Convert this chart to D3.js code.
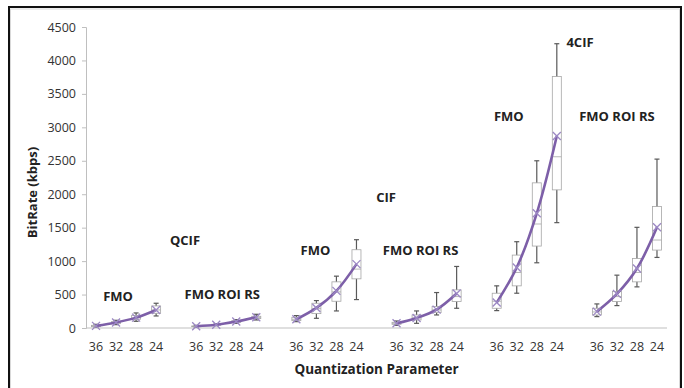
<!DOCTYPE html>
<html>
<head>
<meta charset="utf-8">
<script src="https://cdn.jsdelivr.net/npm/d3@7"></script>
<style>
  body { margin: 0; background: #fff; }
  text { font-family: "Open Sans", sans-serif; }
</style>
</head>
<body>
<div id="chart"></div>
<script>
// data (6 groups x 4 QP values, in kbps)
const groupNames = ["FMO", "FMO ROI RS", "FMO", "FMO ROI RS", "FMO", "FMO ROI RS"];
const resolutions = ["QCIF", "CIF", "4CIF"];
const qpLabels = ["36", "32", "28", "24"];

const minVals = [15, 50, 100, 180,   15, 35, 70, 120,   95, 145, 255, 425,
                 40, 70, 195, 295,   260, 520, 975, 1575,   170, 335, 615, 1055];
const q1Vals = [20, 65, 130, 220,   20, 42, 85, 140,   110, 215, 400, 735,
                55, 120, 230, 395,   295, 630, 1225, 2065,   195, 395, 690, 1165];
const medianVals = [30, 80, 150, 270,   25, 48, 95, 155,   130, 290, 540, 880,
                    70, 150, 270, 470,   400, 830, 1555, 2560,   240, 470, 830, 1315];
const q3Vals = [40, 95, 185, 330,   30, 55, 110, 175,   160, 370, 690, 1170,
                85, 195, 320, 570,   520, 1090, 2170, 3760,   295, 545, 1040, 1815];
const maxVals = [55, 115, 225, 370,   40, 65, 125, 205,   185, 410, 775, 1320,
                 105, 255, 530, 920,   630, 1290, 2500, 4250,   360, 790, 1505, 2525];
const meanVals = [32, 82, 155, 270,   27, 48, 97, 160,   130, 300, 555, 955,
                  70, 150, 275, 515,   380, 905, 1715, 2870,   245, 510, 890, 1505];

const yTicks = [0, 500, 1000, 1500, 2000, 2500, 3000, 3500, 4000, 4500];

// set up
const width = 684, height = 388;
const margin = { top: 27, bottom: 60, left: 86, right: 17 };

const svg = d3.select('#chart')
  .append('svg')
  .attr('width', width)
  .attr('height', height);

// frame
svg.append('rect')
  .attr('x', 9).attr('y', 7)
  .attr('width', 672).attr('height', 400)
  .attr('fill', 'none').attr('stroke', '#111').attr('stroke-width', 2);
svg.append('rect')
  .attr('x', 10.5).attr('y', 9)
  .attr('width', 669).attr('height', 400)
  .attr('fill', 'none').attr('stroke', '#d9d9d9').attr('stroke-width', 1);

// scales: 4 slots per group plus an empty slot between groups
const slots = d3.range(groupNames.length * 5 - 1);
const x = d3.scaleBand()
  .domain(slots)
  .range([margin.left, width - margin.right]);

const y = d3.scaleLinear()
  .domain([0, 4500])
  .range([height - margin.bottom, margin.top]);

const slotOf = i => Math.floor(i / 4) * 5 + (i % 4);
const cx = i => x(slotOf(i)) + x.bandwidth() / 2;

// rows
const rows = meanVals.map((m, i) => ({
  i, group: Math.floor(i / 4), qp: qpLabels[i % 4],
  min: minVals[i], q1: q1Vals[i], med: medianVals[i], q3: q3Vals[i], max: maxVals[i], mean: m
}));

// y axis
const yAxis = svg.append('g')
  .attr('transform', `translate(${margin.left},0)`)
  .call(d3.axisLeft(y).tickValues(yTicks).tickFormat(d3.format('d')).tickSize(4).tickPadding(6));
yAxis.select('.domain').attr('stroke', '#bfbfbf');
yAxis.selectAll('.tick line').attr('stroke', '#bfbfbf');
yAxis.selectAll('.tick text')
  .attr('font-family', '"Open Sans", sans-serif')
  .attr('font-size', '12.5px')
  .attr('fill', '#333');

// x axis line
svg.append('line')
  .attr('x1', margin.left).attr('x2', width - margin.right)
  .attr('y1', y(0)).attr('y2', y(0))
  .attr('stroke', '#bfbfbf');

// x tick labels
svg.append('g')
  .selectAll('text')
  .data(rows)
  .join('text')
    .attr('x', d => cx(d.i))
    .attr('y', y(0) + 23)
    .attr('text-anchor', 'middle')
    .attr('font-size', '12.5px')
    .attr('fill', '#333')
    .text(d => d.qp);

// axis titles
svg.append('text')
  .attr('x', (margin.left + width - margin.right) / 2)
  .attr('y', y(0) + 46)
  .attr('text-anchor', 'middle')
  .attr('font-size', '13.5px')
  .attr('font-weight', 'bold')
  .attr('fill', '#222')
  .text('Quantization Parameter');

svg.append('text')
  .attr('transform', `translate(37,${(margin.top + y(0)) / 2 + 15}) rotate(-90)`)
  .attr('text-anchor', 'middle')
  .attr('font-size', '13px')
  .attr('font-weight', 'bold')
  .attr('fill', '#222')
  .text('BitRate (kbps)');

// box plots
const boxW = 9, capW = 5;
const boxes = svg.append('g').selectAll('g')
  .data(rows)
  .join('g');

// whiskers
boxes.append('line')
  .attr('x1', d => cx(d.i)).attr('x2', d => cx(d.i))
  .attr('y1', d => y(d.max)).attr('y2', d => y(d.min))
  .attr('stroke', '#595959').attr('stroke-width', 1.2);
boxes.append('line')
  .attr('x1', d => cx(d.i) - capW / 2).attr('x2', d => cx(d.i) + capW / 2)
  .attr('y1', d => y(d.max)).attr('y2', d => y(d.max))
  .attr('stroke', '#595959').attr('stroke-width', 1.2);
boxes.append('line')
  .attr('x1', d => cx(d.i) - capW / 2).attr('x2', d => cx(d.i) + capW / 2)
  .attr('y1', d => y(d.min)).attr('y2', d => y(d.min))
  .attr('stroke', '#595959').attr('stroke-width', 1.2);

// box
boxes.append('rect')
  .attr('x', d => cx(d.i) - boxW / 2)
  .attr('y', d => y(d.q3))
  .attr('width', boxW)
  .attr('height', d => y(d.q1) - y(d.q3))
  .attr('fill', '#fff')
  .attr('stroke', '#a6a6a6').attr('stroke-width', 0.8);
boxes.append('line')
  .attr('x1', d => cx(d.i) - boxW / 2).attr('x2', d => cx(d.i) + boxW / 2)
  .attr('y1', d => y(d.med)).attr('y2', d => y(d.med))
  .attr('stroke', '#a6a6a6').attr('stroke-width', 0.8);

// mean lines, one per group
const purple = '#7d5fa8';
const line = d3.line()
  .x(d => cx(d.i))
  .y(d => y(d.mean))
  .curve(d3.curveCatmullRom.alpha(0.5));

svg.append('g')
  .selectAll('path')
  .data(d3.groups(rows, d => d.group).map(g => g[1]))
  .join('path')
    .attr('d', line)
    .attr('fill', 'none')
    .attr('stroke', purple)
    .attr('stroke-width', 2.6);

// x markers
const m = 4;
svg.append('g')
  .selectAll('path')
  .data(rows)
  .join('path')
    .attr('d', d => {
      const px = cx(d.i), py = y(d.mean);
      return `M${px - m},${py - m}L${px + m},${py + m}M${px - m},${py + m}L${px + m},${py - m}`;
    })
    .attr('stroke', '#9c88c4')
    .attr('stroke-width', 1.3)
    .attr('fill', 'none');

// group labels (x offset in px from group centre, y as value)
const labelValues = [470, 490, 1150, 1150, 3160, 3160];
const labelShift = [-8, -4, -11, -6, -18, -10];
const resValues = [1300, 1945, 4260];
const resX = [185, 386, 580];

const groupCenter = g => (x(g * 5) + x(g * 5 + 3) + x.bandwidth()) / 2;

svg.append('g')
  .selectAll('text')
  .data(groupNames)
  .join('text')
    .attr('x', (d, g) => groupCenter(g) + labelShift[g])
    .attr('y', (d, g) => y(labelValues[g]) + 4)
    .attr('text-anchor', 'middle')
    .attr('font-size', '13px')
    .attr('font-weight', 'bold')
    .attr('fill', '#222')
    .text(d => d);

svg.append('g')
  .selectAll('text')
  .data(resolutions)
  .join('text')
    .attr('x', (d, k) => resX[k])
    .attr('y', (d, k) => y(resValues[k]) + 4)
    .attr('text-anchor', 'middle')
    .attr('font-size', '13px')
    .attr('font-weight', 'bold')
    .attr('fill', '#222')
    .text(d => d);
</script>
</body>
</html>
